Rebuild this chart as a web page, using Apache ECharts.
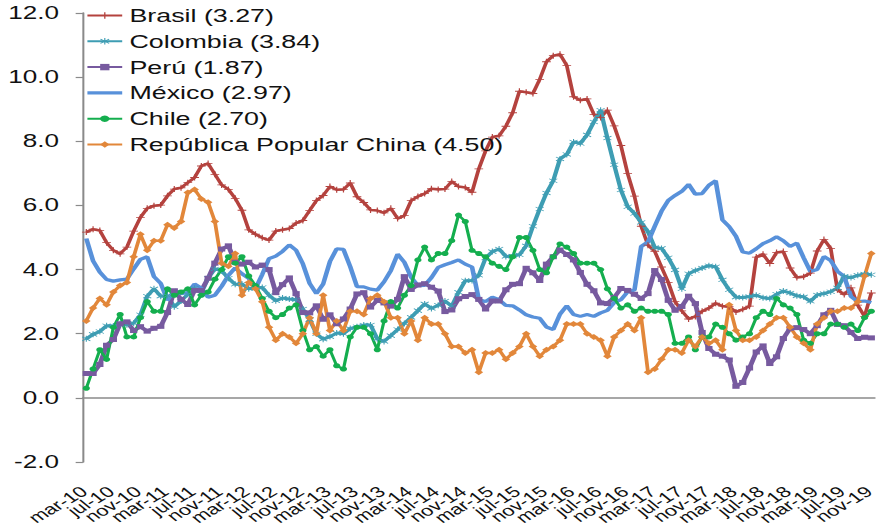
<!DOCTYPE html>
<html>
<head>
<meta charset="utf-8">
<script src="https://cdn.jsdelivr.net/npm/echarts@6/dist/echarts.min.js"></script>
<style>
  html, body { margin: 0; padding: 0; background: #fff; overflow: hidden; }
  #wrap { width: 877px; height: 523px; overflow: hidden; }
  /* chart drawn narrower, then widened horizontally */
  #chart { width: 605px; height: 523px; transform: scaleX(1.4496); transform-origin: 0 0; }
</style>
</head>
<body>
<div id="wrap"><div id="chart"></div></div>
<script>
// Monthly axis: mar-10 .. nov-19
const monthAbbr = ['ene','feb','mar','abr','may','jun','jul','ago','sep','oct','nov','dic'];
const startYear = 2010, startMonth = 2, monthCount = 117;
const labelEvery = 4;
const categories = [];
for (let k = 0; k < monthCount; k++) {
  const m = (startMonth + k) % 12;
  const y = startYear + Math.floor((startMonth + k) / 12);
  categories.push(monthAbbr[m] + '-' + String(y).slice(2));
}

// Annual inflation, %
const brasil = [
  5.17,5.26,5.22,4.84,4.60,4.49,4.70,5.20,5.63,5.91,
  5.99,6.01,6.30,6.51,6.55,6.71,6.87,7.23,7.31,6.97,6.64,6.50,
  6.22,5.85,5.24,5.10,4.99,4.92,5.20,5.24,5.28,5.45,5.53,5.84,
  6.15,6.31,6.59,6.49,6.50,6.70,6.27,6.09,5.86,5.84,5.77,5.91,
  5.59,5.68,6.15,6.28,6.37,6.52,6.50,6.51,6.75,6.59,6.56,6.41,
  7.14,7.70,8.13,8.17,8.47,8.89,9.56,9.53,9.49,9.93,10.48,10.67,
  10.71,10.36,9.39,9.28,9.32,8.84,8.74,8.97,8.48,7.87,6.99,6.29,
  5.35,4.76,4.57,4.08,3.60,3.00,2.71,2.46,2.54,2.70,2.80,2.95,
  2.86,2.84,2.68,2.76,2.86,4.39,4.48,4.19,4.53,4.56,4.05,3.75,
  3.78,3.89,4.58,4.94,4.66,3.37,3.22,3.43,2.89,2.54,3.27
];
const colombia = [
  1.84,1.98,2.07,2.25,2.24,2.31,2.28,2.33,2.59,3.17,
  3.40,3.17,3.19,2.84,3.02,3.23,3.42,3.27,3.73,4.02,3.96,3.73,
  3.54,3.55,3.40,3.43,3.44,3.20,3.03,3.11,3.08,3.06,2.77,2.44,
  2.00,1.83,1.91,2.02,2.00,2.16,2.22,2.27,2.27,1.84,1.76,1.94,
  2.13,2.32,2.51,2.72,2.93,2.79,2.89,3.02,2.86,3.29,3.65,3.66,
  3.82,4.36,4.56,4.64,4.41,4.42,4.46,4.74,5.35,5.89,6.39,6.77,
  7.45,7.59,7.98,7.93,8.20,8.60,8.97,8.10,7.27,6.48,5.96,5.75,
  5.47,5.18,4.69,4.66,4.37,3.99,3.40,3.87,3.97,4.05,4.12,4.09,
  3.68,3.37,3.14,3.13,3.16,3.20,3.12,3.10,3.23,3.33,3.27,3.18,
  3.15,3.01,3.21,3.25,3.31,3.43,3.79,3.75,3.82,3.86,3.84
];
const peru = [
  0.76,0.76,1.04,1.64,1.82,2.31,2.37,2.10,2.22,2.08,
  2.17,2.23,2.66,3.34,3.07,2.91,3.35,3.35,3.73,4.20,4.64,4.74,
  4.23,4.17,4.23,4.08,4.14,4.00,3.28,3.53,3.74,3.25,2.66,2.65,
  2.87,2.45,2.59,2.31,2.46,2.77,3.24,3.28,2.83,3.04,2.96,2.86,
  3.07,3.78,3.38,3.52,3.56,3.45,3.33,2.69,2.74,3.09,3.16,3.22,
  3.07,2.77,3.02,3.02,3.37,3.54,3.56,4.04,3.90,3.66,4.17,4.40,
  4.61,4.47,4.30,3.91,3.54,3.34,2.96,2.94,3.13,3.41,3.35,3.23,
  3.10,3.25,3.97,3.69,3.04,2.73,2.85,3.17,2.94,2.04,1.54,1.36,
  1.30,1.18,0.36,0.48,0.93,1.43,1.62,1.07,1.28,1.85,2.17,2.19,
  2.13,2.00,2.25,2.59,2.73,2.29,2.25,2.04,1.85,1.89,1.87
];
const mexico = [
  4.97,4.27,3.92,3.69,3.64,3.68,3.70,4.02,4.32,4.40,
  3.78,3.57,3.04,3.36,3.25,3.28,3.55,3.42,3.14,3.20,3.48,3.82,
  4.05,3.87,3.73,3.41,3.85,4.34,4.42,4.57,4.77,4.60,4.18,3.57,
  3.25,3.55,4.25,4.65,4.63,4.09,3.47,3.46,3.39,3.36,3.62,3.97,
  4.48,4.23,3.76,3.50,3.51,3.75,4.07,4.15,4.22,4.30,4.17,4.08,
  3.07,3.00,3.14,3.06,2.88,2.87,2.74,2.59,2.52,2.48,2.21,2.13,
  2.61,2.87,2.60,2.54,2.60,2.54,2.65,2.73,2.97,3.06,3.31,3.36,
  4.72,4.86,5.35,5.82,6.16,6.31,6.44,6.66,6.35,6.37,6.63,6.77,
  5.55,5.34,5.04,4.55,4.51,4.65,4.81,4.90,5.02,4.90,4.72,4.83,
  4.37,3.94,4.00,4.41,4.28,3.95,3.78,3.16,3.00,3.02,2.97
];
const chile = [
  0.3,0.9,1.5,1.2,2.2,2.6,1.9,1.9,2.5,3.0,
  2.7,2.7,3.4,3.2,3.3,3.4,2.9,3.2,3.3,3.7,4.0,4.4,
  4.2,4.4,3.8,3.5,3.1,2.7,2.5,2.6,2.8,2.9,2.1,1.5,
  1.6,1.3,1.5,1.0,0.9,1.9,2.2,2.2,2.0,1.5,2.4,3.0,
  2.8,3.2,3.5,4.3,4.7,4.3,4.5,4.5,4.9,5.7,5.5,4.6,
  4.5,4.4,4.2,4.1,4.0,4.4,5.0,5.0,4.6,4.0,3.9,4.4,
  4.8,4.7,4.5,4.2,4.2,4.2,4.0,3.4,3.1,2.8,2.9,2.7,
  2.8,2.7,2.7,2.7,2.6,1.7,1.7,1.9,1.5,1.9,1.9,2.3,
  2.2,2.0,1.8,1.9,2.0,2.5,2.7,2.6,3.1,2.9,2.8,2.6,
  1.8,1.7,2.0,2.0,2.3,2.3,2.2,2.3,2.1,2.5,2.7
];
const china = [
  2.4,2.8,3.1,2.9,3.3,3.5,3.6,4.4,5.1,4.6,
  4.9,4.9,5.4,5.3,5.5,6.4,6.5,6.2,6.1,5.5,4.2,4.1,
  4.5,3.2,3.6,3.4,3.0,2.2,1.8,2.0,1.9,1.7,2.0,2.5,
  2.0,3.2,2.1,2.4,2.1,2.7,2.7,2.6,3.1,3.2,3.0,2.5,
  2.5,2.0,2.4,1.8,2.5,2.3,2.3,2.0,1.6,1.6,1.4,1.5,
  0.8,1.4,1.4,1.5,1.2,1.4,1.6,2.0,1.6,1.3,1.5,1.6,
  1.8,2.3,2.3,2.3,2.0,1.9,1.8,1.3,1.9,2.1,2.3,2.1,
  2.5,0.8,0.9,1.2,1.5,1.5,1.4,1.8,1.6,1.9,1.7,1.8,
  1.5,2.9,2.1,1.8,1.8,1.9,2.1,2.3,2.5,2.5,2.2,1.9,
  1.7,1.5,2.3,2.5,2.7,2.7,2.8,2.8,3.0,3.8,4.5
];

const seriesNames = [
  'Brasil (3.27)', 'Colombia (3.84)', 'Perú (1.87)',
  'México (2.97)', 'Chile (2.70)', 'República Popular China (4.50)'
];
const yTicks = { min: -2, max: 12, step: 2 };

const FONT = '"Liberation Sans", Arial, sans-serif';
const plusPath = 'path://M4.3,0H5.7V4.3H10V5.7H5.7V10H4.3V5.7H0V4.3H4.3Z';
const starPath = 'path://M4.4,0H5.6V10H4.4Z M0.2,2.2L0.8,1.2L9.8,7.8L9.2,8.8Z M0.2,7.8L9.2,1.2L9.8,2.2L0.8,8.8Z';

const styles = [
  { color: '#B4423E', width: 2.6, symbol: plusPath, size: 6 },
  { color: '#3E9DB3', width: 3.0, symbol: starPath, size: 6 },
  { color: '#775A9F', width: 3.4, symbol: 'rect', size: 5 },
  { color: '#5891DA', width: 3.2, symbol: 'none', size: 0 },
  { color: '#14AE4E', width: 2.2, symbol: 'circle', size: 5 },
  { color: '#E2873A', width: 2.6, symbol: 'diamond', size: 6 }
];
const values = [brasil, colombia, peru, mexico, chile, china];

const chart = echarts.init(document.getElementById('chart'), null, { renderer: 'svg' });

chart.setOption({
  animation: false,
  backgroundColor: '#fff',
  textStyle: { fontFamily: FONT },
  grid: {
    left: 57.2, right: 1.6, top: 13, bottom: 61,
    containLabel: false, outerBoundsMode: 'none'
  },
  legend: {
    orient: 'vertical',
    left: 59.3,
    top: 6,
    padding: 0,
    itemWidth: 24,
    itemHeight: 8,
    itemGap: 6.8,
    selectedMode: false,
    textStyle: { fontSize: 18.5, lineHeight: 18.5, color: '#111', fontFamily: FONT },
    data: seriesNames.map((n, i) =>
      styles[i].symbol === 'none' ? { name: n, icon: 'path://M0,0H25V3.2H0Z' } : { name: n })
  },
  xAxis: {
    type: 'category',
    data: categories,
    boundaryGap: true,
    axisLine: { onZero: true, lineStyle: { color: '#8a8a8a', width: 1.5 } },
    axisTick: { interval: labelEvery - 1, length: 5, lineStyle: { color: '#8a8a8a', width: 1 } },
    axisLabel: {
      interval: 0, rotate: 40, margin: 26,
      formatter: (v, idx) => (idx % labelEvery === 0 ? v : ''),
      hideOverlap: false,
      padding: [0, 2, 0, 0],
      fontSize: 15, color: '#111', fontFamily: FONT
    },
    splitLine: { show: false }
  },
  yAxis: {
    type: 'value',
    min: yTicks.min, max: yTicks.max, interval: yTicks.step,
    axisLine: { show: true, lineStyle: { color: '#8a8a8a', width: 1.4 } },
    axisTick: { show: true, length: 5, lineStyle: { color: '#8a8a8a', width: 1.2 } },
    splitLine: { show: false },
    axisLabel: {
      formatter: v => v.toFixed(1),
      fontSize: 18, color: '#111', margin: 16.5, fontFamily: FONT
    }
  },
  series: seriesNames.map((n, i) => ({
    name: n,
    type: 'line',
    data: values[i],
    symbol: styles[i].symbol,
    symbolSize: styles[i].size,
    showAllSymbol: true,
    showSymbol: styles[i].symbol !== 'none',
    lineStyle: { color: styles[i].color, width: styles[i].width },
    itemStyle: { color: styles[i].color },
    emphasis: { disabled: true }
  }))
});
</script>
</body>
</html>
